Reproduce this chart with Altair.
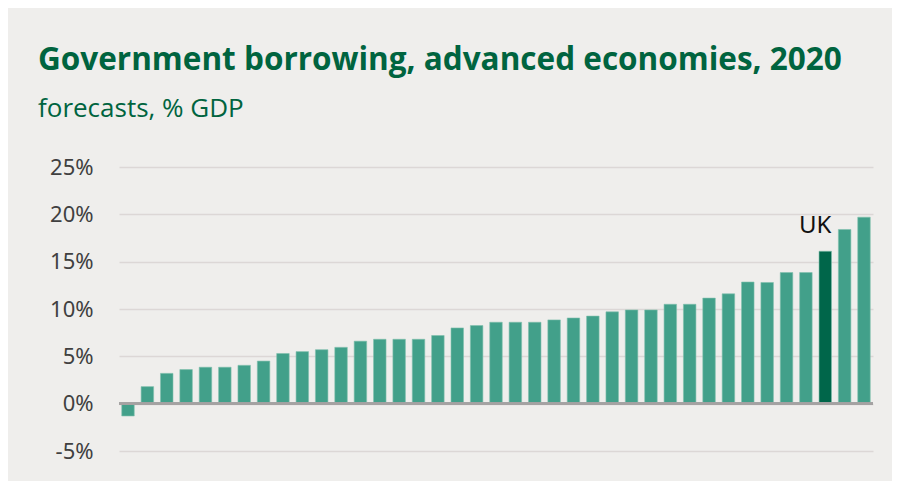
import altair as alt
import pandas as pd

countries = [f"Economy {i:02d}" for i in range(1, 37)] + ["UK", "Economy 38", "Economy 39"]
borrowing = [-1.3, 1.8, 3.2, 3.6, 3.85, 3.85, 4.05, 4.5, 5.3, 5.5, 5.7, 5.95, 6.6, 6.8, 6.8,
             6.8, 7.2, 8.0, 8.25, 8.6, 8.6, 8.6, 8.85, 9.05, 9.25, 9.7, 9.9, 9.9, 10.5, 10.5,
             11.15, 11.6, 12.85, 12.8, 13.85, 13.85, 16.1, 18.4, 19.7]
y_ticks = [-5, 0, 5, 10, 15, 20, 25]
highlight = "UK"

df = pd.DataFrame({"country": countries, "value": borrowing})
df["is_uk"] = df["country"] == highlight

BG = "#efeeec"
GREEN = "#00643f"

x = alt.X("country:N", sort=countries, axis=None,
          scale=alt.Scale(paddingInner=0.355, paddingOuter=0.142))
y = alt.Y("value:Q", title=None,
          scale=alt.Scale(domain=[-5, 25], nice=False),
          axis=alt.Axis(values=y_ticks, labelExpr="datum.value + '%'", ticks=False,
                        domain=False, labelPadding=26, labelFontSize=22,
                        labelFont="Noto Sans", labelColor="#404040",
                        gridColor="#dcd7d6", gridWidth=1.6))

bars = alt.Chart(df).mark_bar(stroke="#7fbfad", strokeWidth=0.6).encode(
    x=x, y=y,
    color=alt.condition(alt.datum.is_uk, alt.value("#00664a"), alt.value("#42a08a")),
)

zero = alt.Chart(df).mark_rule(color="#a5a2a2", strokeWidth=2).encode(y=alt.datum(0))

label = alt.Chart(df).transform_filter(alt.datum.country == highlight).mark_text(
    baseline="bottom", align="center", dx=-10, dy=-13, fontSize=24,
    font="Noto Sans", color="#111111"
).encode(x=x, y="value:Q", text="country:N")

chart = alt.layer(bars, zero, label).properties(
    width=754, height=284,
    autosize=alt.AutoSizeParams(type="none"),
    padding={"left": 111, "top": 159, "right": 19, "bottom": 30},
    background=BG,
    title=alt.Title(
        "Government borrowing, advanced economies, 2020",
        subtitle="forecasts, % GDP",
        anchor="start", frame="group", dx=-81, offset=34,
        font="Open Sans", fontSize=31.5, fontWeight="bold", color=GREEN,
        subtitleFont="Open Sans", subtitleFontSize=26, subtitleColor=GREEN,
        subtitlePadding=20,
    ),
).configure_view(stroke=None)

chart.save("out.html", embed_options={"renderer": "svg", "actions": False})
